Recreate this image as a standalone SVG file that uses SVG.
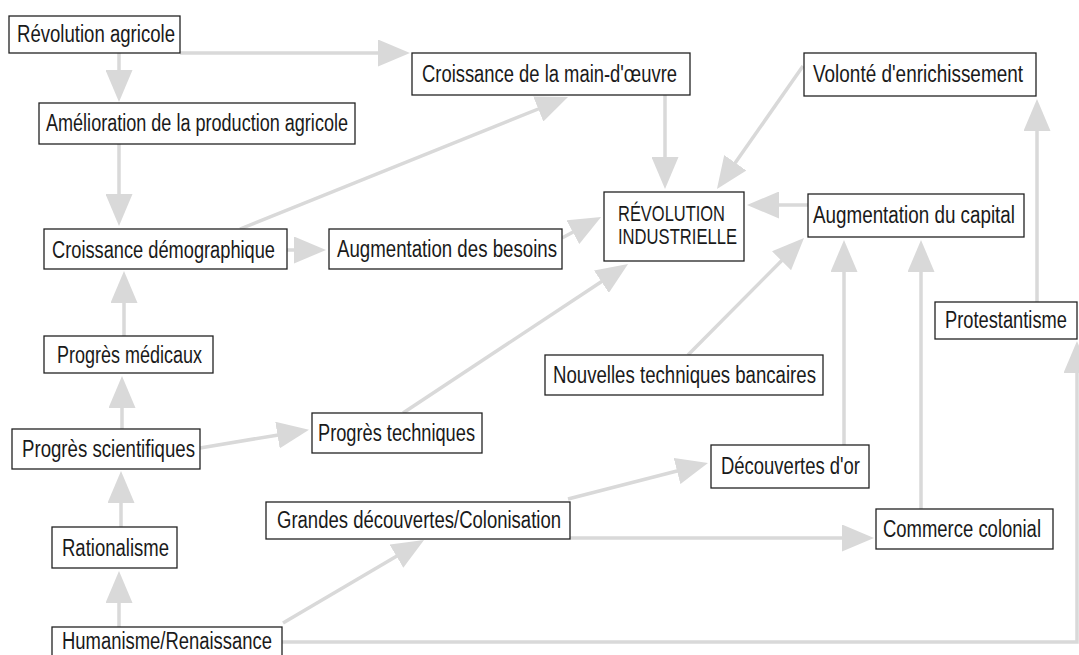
<svg xmlns="http://www.w3.org/2000/svg" width="1079" height="655" viewBox="0 0 1079 655">
<style>
.box{fill:#fff;stroke:#222;stroke-width:1.3}
.t{font-family:"Liberation Sans","Arial",sans-serif;font-size:23px;fill:#1a1a1a}
.t2{font-family:"Liberation Sans","Arial",sans-serif;font-size:22.5px;fill:#1a1a1a}
.c{fill:none;stroke:#d9d9d9;stroke-width:3.5;stroke-linecap:butt;marker-end:url(#ah)}
</style>
<defs>
<marker id="ah" markerUnits="userSpaceOnUse" markerWidth="32" markerHeight="27" refX="4" refY="13.5" orient="auto" viewBox="0 0 32 27">
<path d="M0,0 L32,13.5 L0,27 z" fill="#d9d9d9"/>
</marker>
</defs>
<rect width="1079" height="655" fill="#fff"/>
<g id="connectors">
<path class="c" d="M119,53 V74"/>
<path class="c" d="M180,53 H382"/>
<path class="c" d="M119,144 V198"/>
<path class="c" d="M240,229 L542,107.5"/>
<path class="c" d="M665,95 V161"/>
<path class="c" d="M803,66 L733,166.1"/>
<path class="c" d="M808,205 H775"/>
<path class="c" d="M287,250 H298"/>
<path class="c" d="M562,238 L576.4,230.3"/>
<path class="c" d="M403,413 L604.7,279.5"/>
<path class="c" d="M688,355 L784.3,257.9"/>
<path class="c" d="M844,445 V268"/>
<path class="c" d="M921,509 V268"/>
<path class="c" d="M1037,302 V127"/>
<path class="c" d="M124,336 V299"/>
<path class="c" d="M122,429 V404"/>
<path class="c" d="M121,527 V499"/>
<path class="c" d="M119,627 V599"/>
<path class="c" d="M200,448 L281.4,434.4"/>
<path class="c" d="M283,623 L399.9,554.2"/>
<path class="c" d="M282,642 H1077 V369"/>
<path class="c" d="M568,499 L680.9,470"/>
<path class="c" d="M570,538 H846"/>
</g>
<g id="n-revolution-agricole"><rect class="box" x="9" y="16" width="171" height="37"/><text class="t" x="17" y="42" textLength="158" lengthAdjust="spacingAndGlyphs">Révolution agricole</text></g>
<g id="n-amelioration"><rect class="box" x="39" y="103" width="316" height="41"/><text class="t" x="46" y="131" textLength="302" lengthAdjust="spacingAndGlyphs">Amélioration de la production agricole</text></g>
<g id="n-main-oeuvre"><rect class="box" x="412" y="53" width="278" height="42"/><text class="t" x="422" y="82" textLength="255" lengthAdjust="spacingAndGlyphs">Croissance de la main-d'œuvre</text></g>
<g id="n-volonte"><rect class="box" x="804" y="53" width="232" height="43"/><text class="t" x="813" y="82" textLength="210" lengthAdjust="spacingAndGlyphs">Volonté d'enrichissement</text></g>
<g id="n-revolution-industrielle"><rect class="box" x="604" y="192" width="140" height="69"/><text class="t2" x="618" y="221" textLength="107" lengthAdjust="spacingAndGlyphs">RÉVOLUTION</text><text class="t2" x="618" y="244" textLength="119" lengthAdjust="spacingAndGlyphs">INDUSTRIELLE</text></g>
<g id="n-capital"><rect class="box" x="808" y="194" width="216" height="43"/><text class="t" x="813" y="223" textLength="202" lengthAdjust="spacingAndGlyphs">Augmentation du capital</text></g>
<g id="n-demographique"><rect class="box" x="44" y="229" width="243" height="40"/><text class="t" x="52" y="258" textLength="223" lengthAdjust="spacingAndGlyphs">Croissance démographique</text></g>
<g id="n-besoins"><rect class="box" x="329" y="229" width="233" height="40"/><text class="t" x="337" y="257" textLength="220" lengthAdjust="spacingAndGlyphs">Augmentation des besoins</text></g>
<g id="n-protestantisme"><rect class="box" x="935" y="302" width="142" height="37"/><text class="t" x="945" y="328" textLength="122" lengthAdjust="spacingAndGlyphs">Protestantisme</text></g>
<g id="n-medicaux"><rect class="box" x="44" y="336" width="169" height="37"/><text class="t" x="57" y="363" textLength="145" lengthAdjust="spacingAndGlyphs">Progrès médicaux</text></g>
<g id="n-bancaires"><rect class="box" x="545" y="355" width="278" height="40"/><text class="t" x="553" y="383" textLength="263" lengthAdjust="spacingAndGlyphs">Nouvelles techniques bancaires</text></g>
<g id="n-scientifiques"><rect class="box" x="12" y="429" width="188" height="40"/><text class="t" x="22" y="457" textLength="173" lengthAdjust="spacingAndGlyphs">Progrès scientifiques</text></g>
<g id="n-techniques"><rect class="box" x="312" y="413" width="170" height="40"/><text class="t" x="318" y="441" textLength="157" lengthAdjust="spacingAndGlyphs">Progrès techniques</text></g>
<g id="n-or"><rect class="box" x="711" y="445" width="158" height="43"/><text class="t" x="721" y="474" textLength="139" lengthAdjust="spacingAndGlyphs">Découvertes d'or</text></g>
<g id="n-grandes-decouvertes"><rect class="box" x="266" y="502" width="304" height="37"/><text class="t" x="277" y="528" textLength="284" lengthAdjust="spacingAndGlyphs">Grandes découvertes/Colonisation</text></g>
<g id="n-commerce"><rect class="box" x="876" y="509" width="177" height="40"/><text class="t" x="883" y="537" textLength="158" lengthAdjust="spacingAndGlyphs">Commerce colonial</text></g>
<g id="n-rationalisme"><rect class="box" x="52" y="527" width="125" height="41"/><text class="t" x="62" y="556" textLength="107" lengthAdjust="spacingAndGlyphs">Rationalisme</text></g>
<g id="n-humanisme"><rect class="box" x="52" y="627" width="230" height="40"/><text class="t" x="62" y="649" textLength="210" lengthAdjust="spacingAndGlyphs">Humanisme/Renaissance</text></g>
</svg>
